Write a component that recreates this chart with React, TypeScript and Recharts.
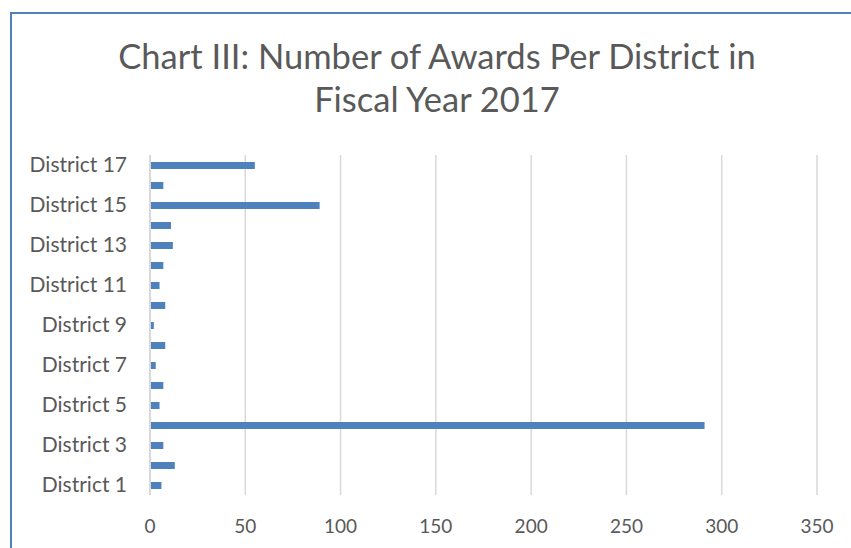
import React from 'react';
import { BarChart, Bar, XAxis, YAxis, CartesianGrid } from 'recharts';

const districts = [
  'District 1', 'District 2', 'District 3', 'District 4', 'District 5', 'District 6',
  'District 7', 'District 8', 'District 9', 'District 10', 'District 11', 'District 12',
  'District 13', 'District 14', 'District 15', 'District 16', 'District 17',
];
const awards = [6, 13, 7, 291, 5, 7, 3, 8, 2, 8, 5, 7, 12, 11, 89, 7, 55];
const xTicks = [0, 50, 100, 150, 200, 250, 300, 350];
const titleLines = ['Chart III: Number of Awards Per District in', 'Fiscal Year 2017'];

const data = districts.map((name, i) => ({ name, value: awards[i] }));

const FONT = 'Lato, "Open Sans", sans-serif';
const TEXT = '#595959';

export default function App() {
  return (
    <div style={{ position: 'absolute', left: 0, top: 0, width: 851, height: 548, background: '#fff', overflow: 'hidden' }}>
      <div style={{ position: 'absolute', left: 10, top: 12, width: 900, height: 600, borderLeft: '2px solid #4f81bd', borderTop: '2px solid #4f81bd' }} />
      <div style={{ position: 'absolute', left: 0, top: 0, width: 851 }}>
        <BarChart
          width={851}
          height={548}
          data={data}
          layout="vertical"
          margin={{ top: 155, right: 34, bottom: 13, left: 0 }}
          barCategoryGap={0}
        >
          <CartesianGrid horizontal={false} stroke="#d9d9d9" strokeWidth={1.5} />
          <XAxis
            type="number"
            domain={[0, 350]}
            ticks={xTicks}
            axisLine={false}
            tickLine={false}
            height={40}
            tickMargin={19}
            tick={{ fill: TEXT, fontSize: 19, fontFamily: FONT }}
          />
          <YAxis
            type="category"
            dataKey="name"
            reversed
            width={150}
            interval={1}
            tickLine={false}
            axisLine={{ stroke: '#d9d9d9', strokeWidth: 2 }}
            tickMargin={17}
            tick={{ fill: TEXT, fontSize: 21, fontFamily: FONT }}
          />
          <Bar dataKey="value" fill="#4f81bd" barSize={7} isAnimationActive={false} />
        </BarChart>
      </div>
      <svg style={{ position: 'absolute', left: 0, top: 0 }} width={851} height={140}>
        {titleLines.map((t, i) => (
          <text key={i} x={437} y={69 + i * 43} textAnchor="middle" fill={TEXT} fontSize={34.5} fontFamily={FONT}>
            {t}
          </text>
        ))}
      </svg>
    </div>
  );
}
